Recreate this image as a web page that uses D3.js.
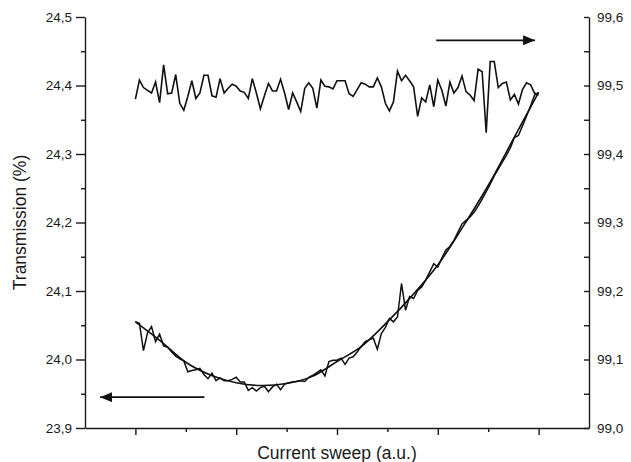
<!DOCTYPE html>
<html>
<head>
<meta charset="utf-8">
<script src="https://cdn.jsdelivr.net/npm/d3@7/dist/d3.min.js"></script>
<style>
  body { margin: 0; background: #fff; }
  text { font-family: "Liberation Sans", Arial, sans-serif; fill: #1a1a1a; }
  .axis path, .axis line { stroke: #1a1a1a; stroke-width: 1.4; }
</style>
</head>
<body>
<div id="chart"></div>
<script>
// sweep runs from 1 to 9 (a.u.), 101 samples
var sweepRange = [1, 9];

// transmission, left axis (%), measured
var transmission = [
  24.055, 24.053, 24.013, 24.039, 24.048, 24.026, 24.037, 24.020, 24.018, 24.011,
  24.005, 24.001, 23.998, 23.982, 23.984, 23.985, 23.987, 23.978, 23.972, 23.980,
  23.969, 23.973, 23.969, 23.969, 23.971, 23.974, 23.967, 23.967, 23.955, 23.959,
  23.954, 23.959, 23.961, 23.953, 23.960, 23.964, 23.956, 23.964, 23.966, 23.967,
  23.968, 23.969, 23.968, 23.974, 23.977, 23.981, 23.985, 23.976, 23.997, 23.999,
  23.999, 24.002, 23.993, 24.002, 24.004, 24.011, 24.019, 24.026, 24.029, 24.031,
  24.015, 24.038, 24.047, 24.060, 24.055, 24.062, 24.111, 24.072, 24.092, 24.089,
  24.101, 24.106, 24.116, 24.128, 24.140, 24.135, 24.148, 24.160, 24.165, 24.174,
  24.186, 24.198, 24.203, 24.208, 24.215, 24.224, 24.234, 24.245, 24.256, 24.268,
  24.278, 24.288, 24.298, 24.309, 24.324, 24.327, 24.341, 24.355, 24.370, 24.386,
  24.390
];

// fitted curve, left axis, read every 0.5 sweep unit
var fitValues = [
  24.055, 24.027, 23.996, 23.977, 23.966, 23.962, 23.965, 23.975, 23.997,
  24.020, 24.055, 24.094, 24.138, 24.194, 24.254, 24.322, 24.390
];

// reference signal, right axis
var reference = [
  99.480, 99.508, 99.497, 99.493, 99.489, 99.505, 99.475, 99.530, 99.488, 99.489,
  99.516, 99.474, 99.464, 99.484, 99.507, 99.481, 99.489, 99.515, 99.515, 99.485,
  99.483, 99.510, 99.489, 99.496, 99.502, 99.499, 99.492, 99.490, 99.481, 99.510,
  99.489, 99.466, 99.485, 99.503, 99.492, 99.492, 99.509, 99.489, 99.465, 99.489,
  99.476, 99.462, 99.496, 99.504, 99.496, 99.467, 99.508, 99.499, 99.498, 99.495,
  99.507, 99.507, 99.507, 99.488, 99.484, 99.494, 99.504, 99.502, 99.498, 99.498,
  99.511, 99.498, 99.474, 99.463, 99.476, 99.521, 99.507, 99.515, 99.507, 99.498,
  99.455, 99.482, 99.476, 99.501, 99.469, 99.508, 99.493, 99.470, 99.505, 99.489,
  99.497, 99.514, 99.491, 99.486, 99.478, 99.524, 99.520, 99.431, 99.535, 99.535,
  99.497, 99.503, 99.505, 99.479, 99.487, 99.473, 99.494, 99.504, 99.501, 99.489,
  99.486
];

var leftTicks = [23.9, 24.0, 24.1, 24.2, 24.3, 24.4, 24.5];
var rightTicks = [99.0, 99.1, 99.2, 99.3, 99.4, 99.5, 99.6];
var xMajor = [1, 3, 5, 7, 9];
var xMinor = [2, 4, 6, 8];

// arrows: [x from, x to, value] (to = arrow tip)
var arrowRight = [6.97, 8.93, 99.566]; // points to right axis
var arrowLeft = [2.37, 0.30, 23.945];  // points to left axis

var width = 631, height = 462;
var margin = {left: 85, right: 42, top: 17, bottom: 34};

window.onload = function() {
  var svg = d3.select("#chart").append("svg")
    .attr("width", width)
    .attr("height", height);

  var x = d3.scaleLinear().domain([0, 10]).range([margin.left, width - margin.right]);
  var yL = d3.scaleLinear().domain([23.9, 24.5]).range([height - margin.bottom, margin.top]);
  var yR = d3.scaleLinear().domain([99.0, 99.6]).range([height - margin.bottom, margin.top]);

  var comma = d3.formatLocale({decimal: ",", thousands: ".", grouping: [3], currency: ["", ""]}).format(".1f");

  // index -> sweep
  var idx = d3.scaleLinear().domain([0, transmission.length - 1]).range(sweepRange);
  var idxFit = d3.scaleLinear().domain([0, fitValues.length - 1]).range(sweepRange);

  var bottom = height - margin.bottom;

  // minor ticks first
  var minorL = leftTicks.slice(0, -1).map(function(d) { return d + 0.05; });
  var minorR = rightTicks.slice(0, -1).map(function(d) { return d + 0.05; });

  svg.append("g").attr("class", "axis")
    .attr("transform", "translate(" + margin.left + ",0)")
    .call(d3.axisLeft(yL).tickValues(minorL).tickSize(4).tickSizeOuter(0).tickFormat(""))
    .select(".domain").remove();
  svg.append("g").attr("class", "axis")
    .attr("transform", "translate(" + (width - margin.right) + ",0)")
    .call(d3.axisRight(yR).tickValues(minorR).tickSize(-5).tickSizeOuter(0).tickFormat(""))
    .select(".domain").remove();
  svg.append("g").attr("class", "axis")
    .attr("transform", "translate(0," + bottom + ")")
    .call(d3.axisBottom(x).tickValues(xMinor).tickSize(4).tickSizeOuter(0).tickFormat(""))
    .select(".domain").remove();

  // major axes
  svg.append("g").attr("class", "axis")
    .attr("transform", "translate(" + margin.left + ",0)")
    .call(d3.axisLeft(yL).tickValues(leftTicks).tickSize(9).tickSizeOuter(0).tickPadding(4).tickFormat(comma));
  svg.append("g").attr("class", "axis")
    .attr("transform", "translate(" + (width - margin.right) + ",0)")
    .call(d3.axisRight(yR).tickValues(rightTicks).tickSize(-5).tickSizeOuter(0).tickPadding(8).tickFormat(comma));
  svg.append("g").attr("class", "axis")
    .attr("transform", "translate(0," + bottom + ")")
    .call(d3.axisBottom(x).tickValues(xMajor).tickSize(7).tickSizeOuter(0).tickFormat(""));

  svg.selectAll(".axis text").style("font-size", "13.5px");

  // axis titles
  svg.append("text")
    .attr("transform", "translate(26," + ((margin.top + bottom) / 2) + ")rotate(-90)")
    .attr("text-anchor", "middle")
    .style("font-size", "17.5px")
    .text("Transmission (%)");

  svg.append("text")
    .attr("x", (margin.left + width - margin.right) / 2)
    .attr("y", 459)
    .attr("text-anchor", "middle")
    .style("font-size", "17.5px")
    .text("Current sweep (a.u.)");

  // lines
  var lineL = d3.line()
    .x(function(d, i) { return x(idx(i)); })
    .y(function(d) { return yL(d); });
  var lineR = d3.line()
    .x(function(d, i) { return x(idx(i)); })
    .y(function(d) { return yR(d); });
  var lineFit = d3.line()
    .curve(d3.curveCatmullRom)
    .x(function(d, i) { return x(idxFit(i)); })
    .y(function(d) { return yL(d); });

  svg.append("path").datum(fitValues)
    .attr("d", lineFit)
    .attr("fill", "none").attr("stroke", "#111").attr("stroke-width", 1.6);
  svg.append("path").datum(transmission)
    .attr("d", lineL)
    .attr("fill", "none").attr("stroke", "#111").attr("stroke-width", 1.5)
    .attr("stroke-linejoin", "miter");
  svg.append("path").datum(reference)
    .attr("d", lineR)
    .attr("fill", "none").attr("stroke", "#111").attr("stroke-width", 1.6)
    .attr("stroke-linejoin", "miter");

  // arrows
  svg.append("defs").append("marker")
    .attr("id", "head")
    .attr("viewBox", "0 0 12 10")
    .attr("refX", 12).attr("refY", 5)
    .attr("markerWidth", 12).attr("markerHeight", 10)
    .attr("markerUnits", "userSpaceOnUse")
    .attr("orient", "auto")
    .append("path")
    .attr("d", "M0,0L12,5L0,10Z")
    .attr("fill", "#111");

  svg.append("line")
    .attr("x1", x(arrowRight[0])).attr("x2", x(arrowRight[1]))
    .attr("y1", yR(arrowRight[2])).attr("y2", yR(arrowRight[2]))
    .attr("stroke", "#111").attr("stroke-width", 1.7)
    .attr("marker-end", "url(#head)");
  svg.append("line")
    .attr("x1", x(arrowLeft[0])).attr("x2", x(arrowLeft[1]))
    .attr("y1", yL(arrowLeft[2])).attr("y2", yL(arrowLeft[2]))
    .attr("stroke", "#111").attr("stroke-width", 1.7)
    .attr("marker-end", "url(#head)");
};
</script>
</body>
</html>
